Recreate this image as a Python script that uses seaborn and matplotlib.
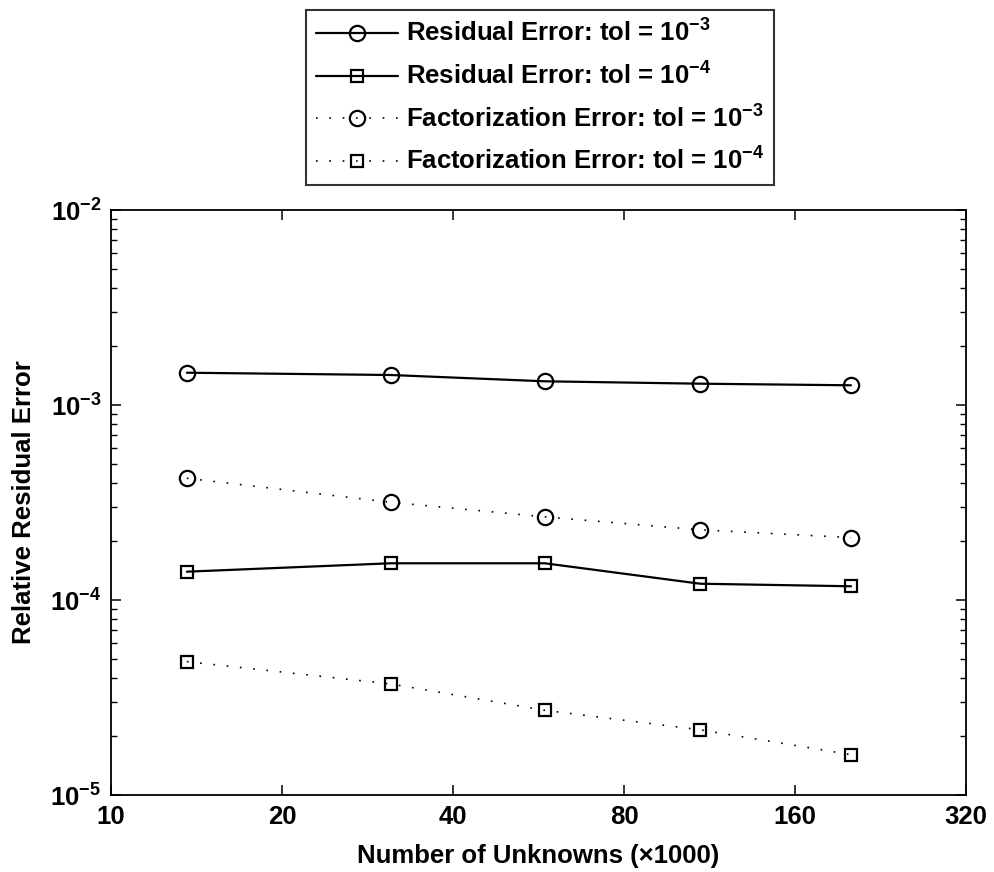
import matplotlib
matplotlib.use("Agg")
import matplotlib.pyplot as plt
import matplotlib.ticker as mticker
import seaborn as sns
import pandas as pd

# ---- data ----
unknowns = [13.6, 31.1, 58.0, 108.9, 200.8]  # x1000
resid_tol3 = [1.464e-3, 1.425e-3, 1.323e-3, 1.286e-3, 1.262e-3]
resid_tol4 = [1.397e-4, 1.543e-4, 1.543e-4, 1.212e-4, 1.176e-4]
fact_tol3 = [4.21e-4, 3.17e-4, 2.67e-4, 2.29e-4, 2.09e-4]
fact_tol4 = [4.83e-5, 3.71e-5, 2.72e-5, 2.16e-5, 1.61e-5]
labels = [r"Residual Error: tol = $10^{-3}$",
          r"Residual Error: tol = $10^{-4}$",
          r"Factorization Error: tol = $10^{-3}$",
          r"Factorization Error: tol = $10^{-4}$"]
xticks = [10, 20, 40, 80, 160, 320]
yticks = [1e-5, 1e-4, 1e-3, 1e-2]
yticklabels = [r"$10^{-5}$", r"$10^{-4}$", r"$10^{-3}$", r"$10^{-2}$"]

sns.set_style("white")
plt.rcParams["font.family"] = ["Liberation Sans", "DejaVu Sans"]
plt.rcParams["font.weight"] = "bold"
plt.rcParams["mathtext.fontset"] = "custom"
plt.rcParams["mathtext.rm"] = "Liberation Sans:bold"
plt.rcParams["mathtext.it"] = "Liberation Sans:bold"
plt.rcParams["mathtext.bf"] = "Liberation Sans:bold"
plt.rcParams["mathtext.default"] = "rm"
for k in ["text.color", "axes.labelcolor", "xtick.color", "ytick.color", "axes.edgecolor"]:
    plt.rcParams[k] = "black"

FS = 18.5

fig = plt.figure(figsize=(9.95, 8.72), dpi=100)
ax = fig.add_axes([111/995, 1-795/872, (966-111)/995, (795-210)/872])

series = [resid_tol3, resid_tol4, fact_tol3, fact_tol4]
markers = ["o", "s", "o", "s"]
msizes = [11, 8.5, 11, 8.5]
styles = ["-", "-", (0, (1, 7)), (0, (1, 7))]
lws = [1.6, 1.6, 1.2, 1.2]

for vals, mk, ms, ls, lw, lab in zip(series, markers, msizes, styles, lws, labels):
    df = pd.DataFrame({"x": unknowns, "y": vals})
    sns.lineplot(data=df, x="x", y="y", ax=ax, color="black", marker=mk,
                 markersize=ms, markerfacecolor="none", markeredgecolor="black",
                 markeredgewidth=1.6, linestyle=ls, linewidth=lw, label=lab)

ax.set_xscale("log", base=2)
ax.set_yscale("log")
ax.set_xlim(10, 320)
ax.set_ylim(1e-5, 1e-2)
ax.xaxis.set_major_locator(mticker.FixedLocator(xticks))
ax.xaxis.set_major_formatter(mticker.FixedFormatter([str(t) for t in xticks]))
ax.xaxis.set_minor_locator(mticker.NullLocator())
ax.yaxis.set_major_locator(mticker.FixedLocator(yticks))
ax.yaxis.set_major_formatter(mticker.FixedFormatter(yticklabels))
ax.yaxis.set_minor_locator(mticker.LogLocator(base=10, subs=range(2, 10)))
ax.yaxis.set_minor_formatter(mticker.NullFormatter())

ax.tick_params(axis="both", which="major", direction="in", length=7, width=1.1,
               top=True, right=True, bottom=True, left=True,
               labelsize=FS, color="black", pad=7)
ax.tick_params(axis="both", which="minor", direction="in", length=4, width=1.0,
               top=True, right=True, bottom=True, left=True, color="black")
for sp in ax.spines.values():
    sp.set_color("black")
    sp.set_linewidth(1.3)

ax.set_xlabel("Number of Unknowns (\u00d71000)", fontsize=FS, fontweight="bold")
ax.set_ylabel("Relative Residual Error", fontsize=FS, fontweight="bold")
ax.xaxis.set_label_coords(0.5, -0.084)
ax.yaxis.set_label_coords(-0.088, 0.5)

handles, labs = ax.get_legend_handles_labels()
ax.legend_.remove()
leg = fig.legend(handles, labs, loc="upper center", bbox_to_anchor=(540/995, 1-10/872),
                 fontsize=FS, frameon=True, fancybox=False, edgecolor="black",
                 handlelength=3.2, handletextpad=0.3, labelspacing=0.6,
                 borderpad=0.38, borderaxespad=0)
leg.get_frame().set_linewidth(1.5)

fig.savefig("out.png", dpi=100, facecolor="white")
